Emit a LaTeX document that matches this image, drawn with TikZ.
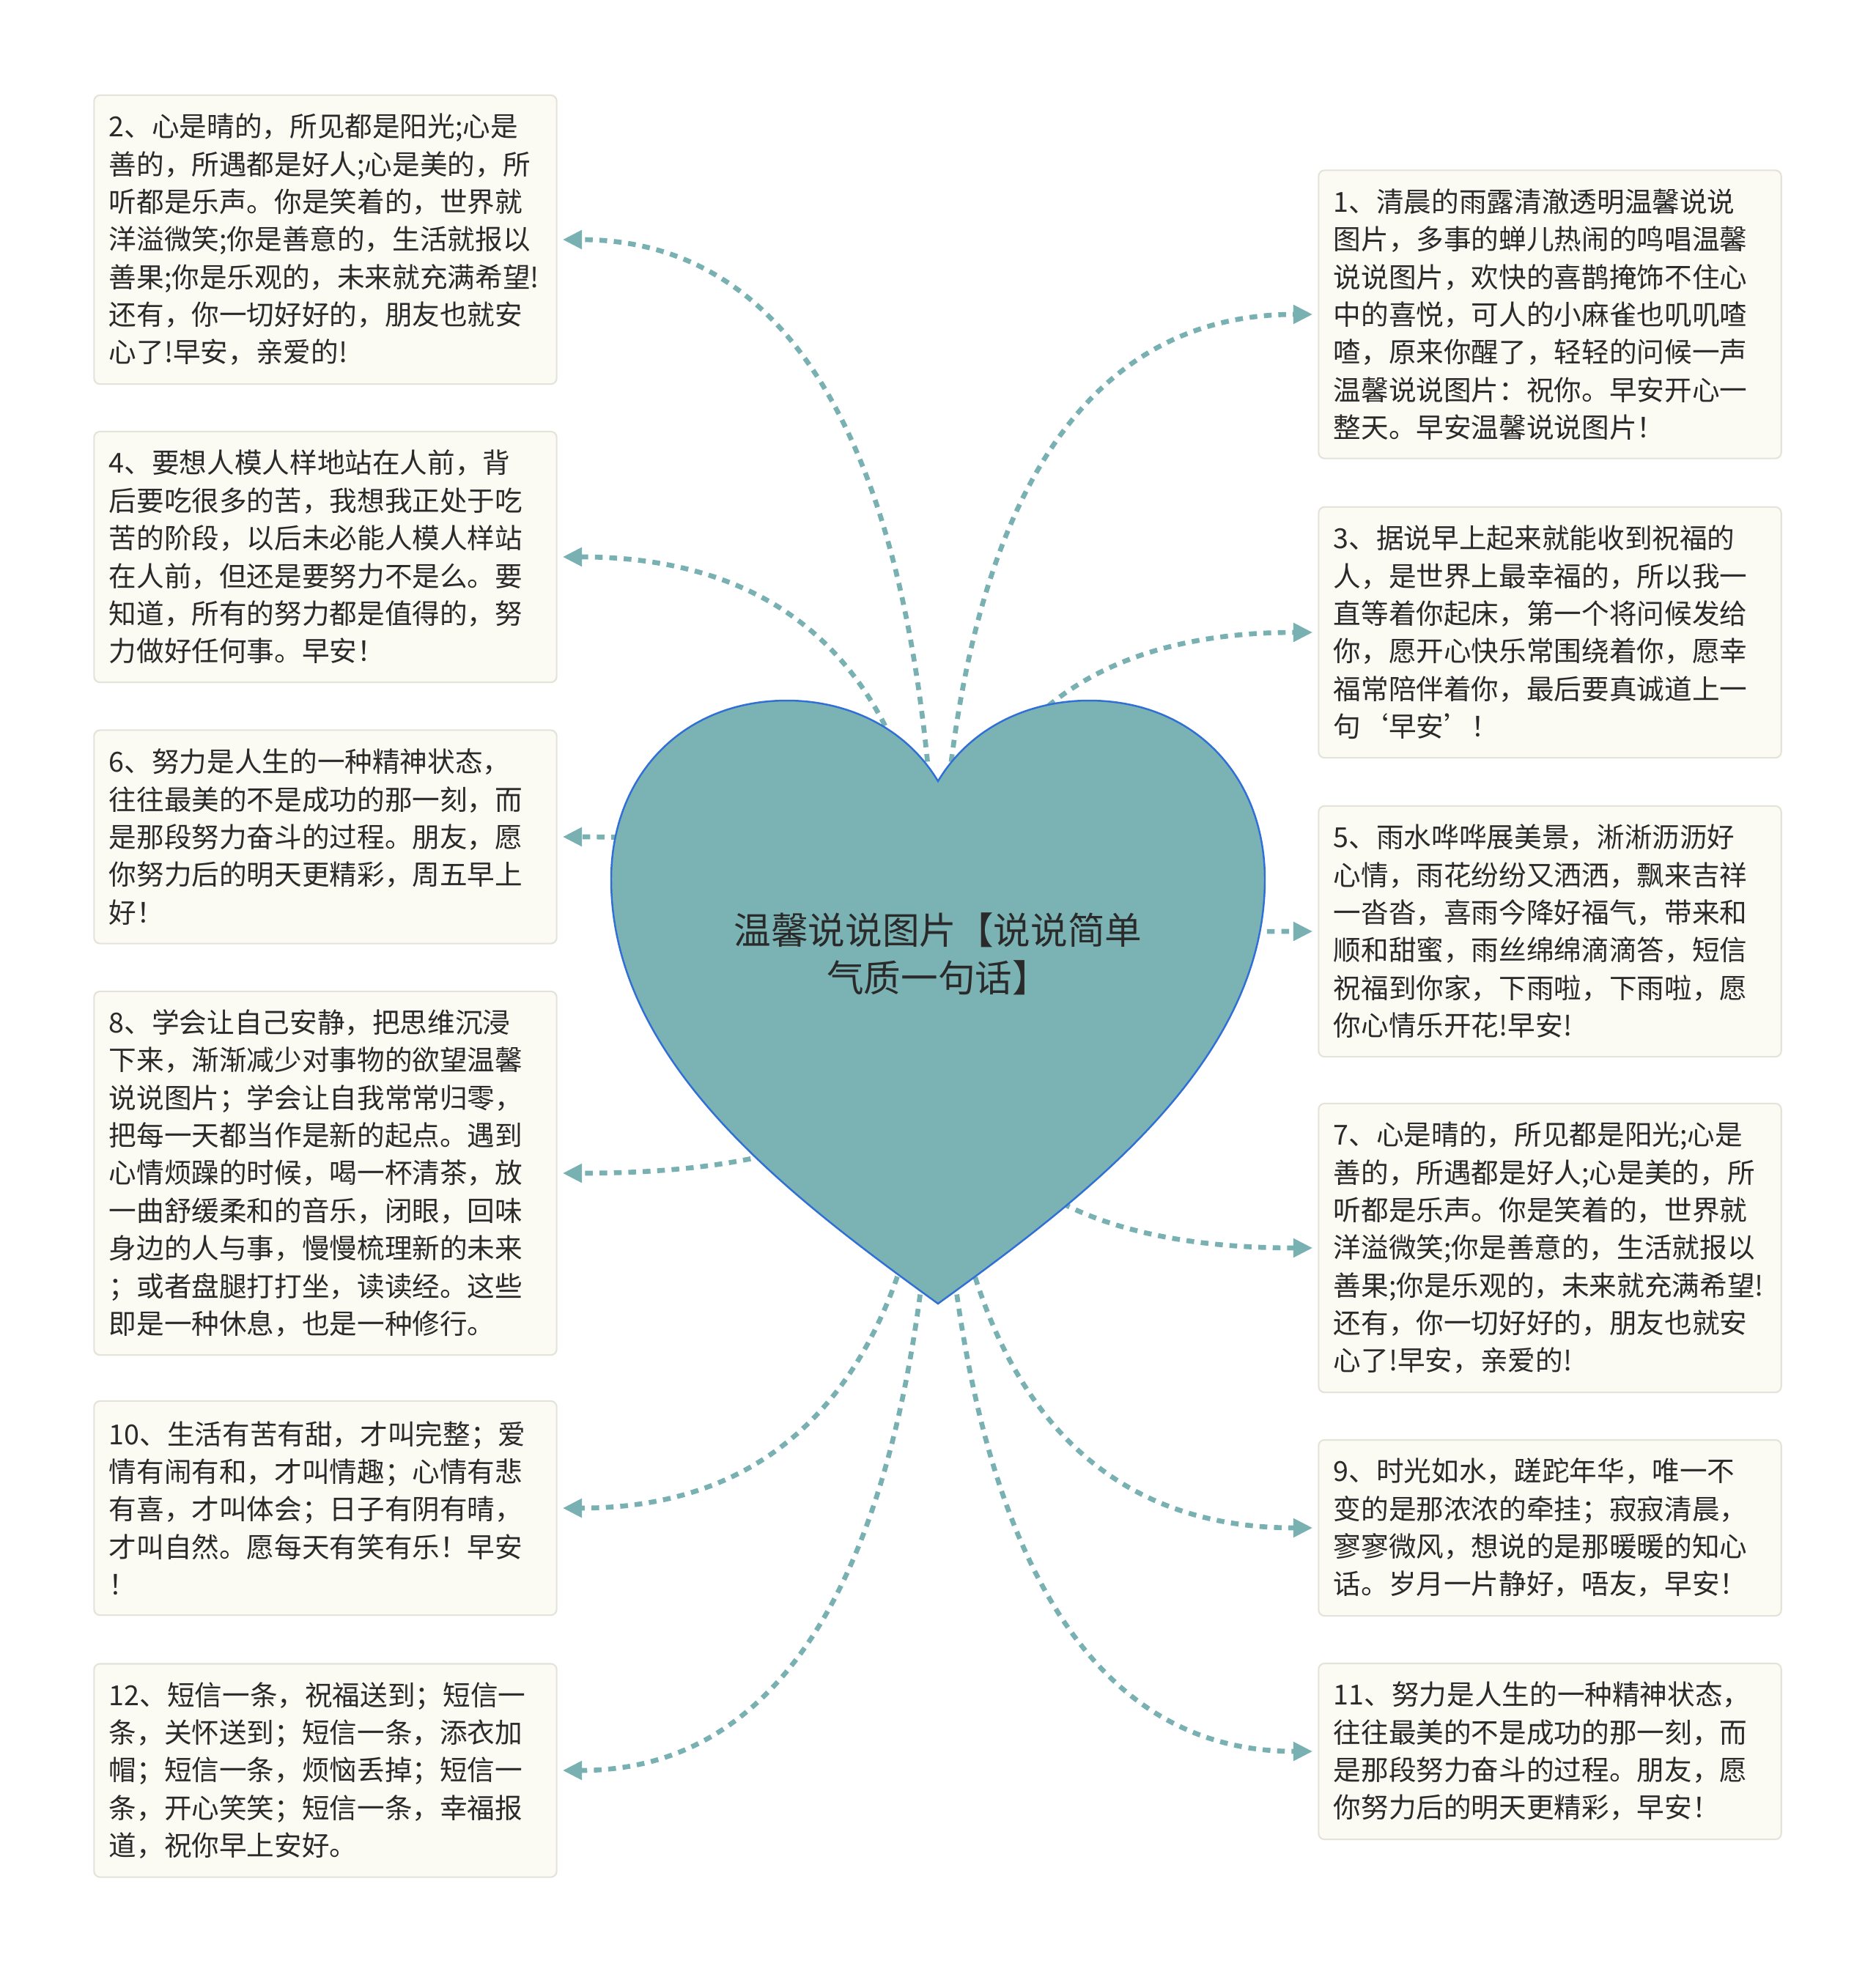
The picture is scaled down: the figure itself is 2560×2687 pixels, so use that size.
\documentclass[tikz,border=0pt]{standalone}
\usepackage{fontspec}
\setmainfont{Noto Sans CJK SC}
\usetikzlibrary{arrows.meta, calc}

\definecolor{leafbg}{HTML}{FCFBF3}
\definecolor{leafline}{HTML}{E3E3DA}
\definecolor{heartbg}{HTML}{7BB3B5}
\definecolor{heartline}{HTML}{2F6FD6}
\definecolor{linkcol}{HTML}{79B0B2}
\definecolor{inkcol}{HTML}{2A2A2A}

\begin{document}
\begin{tikzpicture}[x=0.01cm, y=-0.01cm,
  leaf/.style={draw=leafline, line width=0.6pt, fill=leafbg, rounded corners=2.3pt,
    text width=5.9cm, inner xsep=0.205cm, inner ysep=0pt, align=left,
    minimum height=#1, text=inkcol, font=\fontsize{10.7pt}{14.6pt}\selectfont},
  hub/.style={align=center, text=inkcol, font=\fontsize{14.4pt}{18.5pt}\selectfont},
  link/.style={draw=linkcol, line width=1.9pt, dash pattern=on 3pt off 2.6pt,
    -{Triangle[length=7.5pt, width=7pt]}, shorten >=2pt,
    to path={.. controls ($(\tikztostart)!2/3!(\tikztostart |- \tikztotarget)$)
      and ($(\tikztotarget)!2/3!(\tikztostart |- \tikztotarget)$) .. (\tikztotarget)}}]

  \useasboundingbox (0,0) rectangle (2560,2687);

  % left column
  \node[leaf=3.94cm] (b2) at (444,327) {2、心是晴的，所见都是阳光;心是\\善的，所遇都是好人;心是美的，所\\听都是乐声。你是笑着的，世界就\\洋溢微笑;你是善意的，生活就报以\\善果;你是乐观的，未来就充满希望!\\还有，你一切好好的，朋友也就安\\心了!早安，亲爱的!};
  \node[leaf=3.42cm] (b4) at (444,760) {4、要想人模人样地站在人前，背\\后要吃很多的苦，我想我正处于吃\\苦的阶段，以后未必能人模人样站\\在人前，但还是要努力不是么。要\\知道，所有的努力都是值得的，努\\力做好任何事。早安！};
  \node[leaf=2.91cm] (b6) at (444,1142) {6、努力是人生的一种精神状态，\\往往最美的不是成功的那一刻，而\\是那段努力奋斗的过程。朋友，愿\\你努力后的明天更精彩，周五早上\\好！};
  \node[leaf=4.96cm] (b8) at (444,1601) {8、学会让自己安静，把思维沉浸\\下来，渐渐减少对事物的欲望温馨\\说说图片；学会让自我常常归零，\\把每一天都当作是新的起点。遇到\\心情烦躁的时候，喝一杯清茶，放\\一曲舒缓柔和的音乐，闭眼，回味\\身边的人与事，慢慢梳理新的未来\\；或者盘腿打打坐，读读经。这些\\即是一种休息，也是一种修行。};
  \node[leaf=2.92cm] (b10) at (444,2058) {10、生活有苦有甜，才叫完整；爱\\情有闹有和，才叫情趣；心情有悲\\有喜，才叫体会；日子有阴有晴，\\才叫自然。愿每天有笑有乐！早安\\！};
  \node[leaf=2.91cm] (b12) at (444,2416) {12、短信一条，祝福送到；短信一\\条，关怀送到；短信一条，添衣加\\帽；短信一条，烦恼丢掉；短信一\\条，开心笑笑；短信一条，幸福报\\道，祝你早上安好。};

  % right column
  \node[leaf=3.93cm] (b1) at (2115,429) {1、清晨的雨露清澈透明温馨说说\\图片，多事的蝉儿热闹的鸣唱温馨\\说说图片，欢快的喜鹊掩饰不住心\\中的喜悦，可人的小麻雀也叽叽喳\\喳，原来你醒了，轻轻的问候一声\\温馨说说图片：祝你。早安开心一\\整天。早安温馨说说图片！};
  \node[leaf=3.42cm] (b3) at (2115,863) {3、据说早上起来就能收到祝福的\\人，是世界上最幸福的，所以我一\\直等着你起床，第一个将问候发给\\你，愿开心快乐常围绕着你，愿幸\\福常陪伴着你，最后要真诚道上一\\句‘早安’！};
  \node[leaf=3.42cm] (b5) at (2115,1271) {5、雨水哗哗展美景，淅淅沥沥好\\心情，雨花纷纷又洒洒，飘来吉祥\\一沓沓，喜雨今降好福气，带来和\\顺和甜蜜，雨丝绵绵滴滴答，短信\\祝福到你家，下雨啦，下雨啦，愿\\你心情乐开花!早安!};
  \node[leaf=3.94cm] (b7) at (2115,1703) {7、心是晴的，所见都是阳光;心是\\善的，所遇都是好人;心是美的，所\\听都是乐声。你是笑着的，世界就\\洋溢微笑;你是善意的，生活就报以\\善果;你是乐观的，未来就充满希望!\\还有，你一切好好的，朋友也就安\\心了!早安，亲爱的!};
  \node[leaf=2.40cm] (b9) at (2115,2085) {9、时光如水，蹉跎年华，唯一不\\变的是那浓浓的牵挂；寂寂清晨，\\寥寥微风，想说的是那暖暖的知心\\话。岁月一片静好，唔友，早安！};
  \node[leaf=2.40cm] (b11) at (2115,2390) {11、努力是人生的一种精神状态，\\往往最美的不是成功的那一刻，而\\是那段努力奋斗的过程。朋友，愿\\你努力后的明天更精彩，早安！};

  % connectors, hidden under the heart
  \coordinate (o) at (1280,1354);
  \draw[link] (o) to (b2.east);
  \draw[link] (o) to (b4.east);
  \draw[link] (o) to (b6.east);
  \draw[link] (o) to (b8.east);
  \draw[link] (o) to (b10.east);
  \draw[link] (o) to (b12.east);
  \draw[link] (o) to (b1.west);
  \draw[link] (o) to (b3.west);
  \draw[link] (o) to (b5.west);
  \draw[link] (o) to (b7.west);
  \draw[link] (o) to (b9.west);
  \draw[link] (o) to (b11.west);

  % heart
  \draw[draw=heartline, fill=heartbg, line width=0.7pt]
    (1280,1066) .. controls (1235,991) and (1154,956) .. (1074,956)
    .. controls (930,956) and (834,1060) .. (834,1200)
    .. controls (834,1450) and (1080,1634) .. (1280,1779)
    .. controls (1480,1634) and (1726,1450) .. (1726,1200)
    .. controls (1726,1060) and (1630,956) .. (1486,956)
    .. controls (1406,956) and (1325,991) .. (1280,1066) -- cycle;

  \node[hub] (hub) at (1280,1302) {温馨说说图片【说说简单\\气质一句话】};

\end{tikzpicture}
\end{document}
